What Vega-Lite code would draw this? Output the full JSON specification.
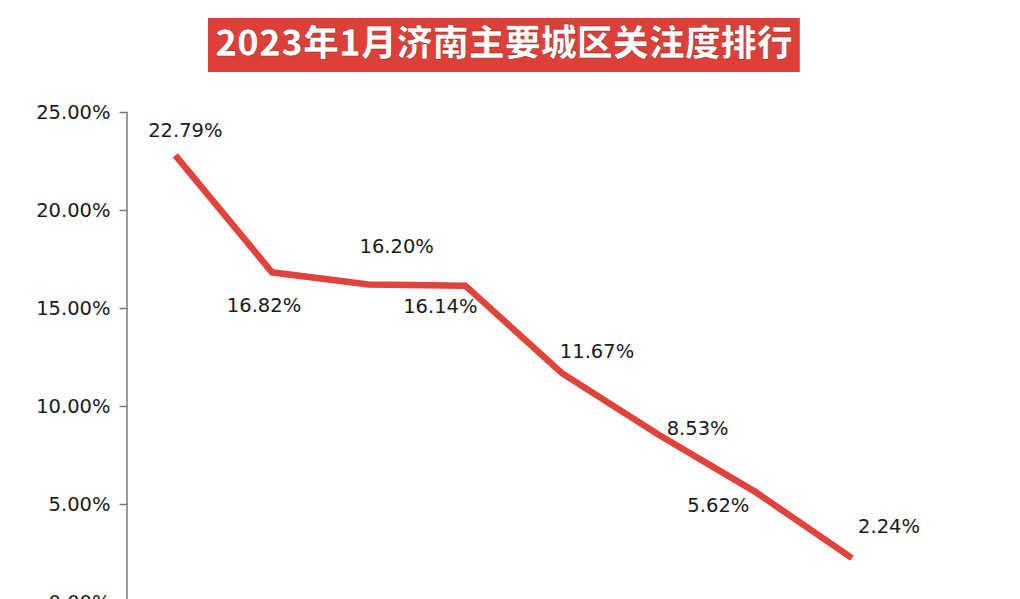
{
  "$schema": "https://vega.github.io/schema/vega-lite/v6.json",
  "autosize": "none",
  "width": 870,
  "height": 588,
  "padding": {"left": 127, "top": 14, "right": 23, "bottom": 0},
  "background": "#ffffff",
  "config": {"view": {"stroke": null}},
  "datasets": {
    "shares": [
      {"rank": 1, "share": 0.2279},
      {"rank": 2, "share": 0.1682},
      {"rank": 3, "share": 0.1620},
      {"rank": 4, "share": 0.1614},
      {"rank": 5, "share": 0.1167},
      {"rank": 6, "share": 0.0853},
      {"rank": 7, "share": 0.0562},
      {"rank": 8, "share": 0.0224}
    ],
    "heading": [{"title": "2023年1月济南主要城区关注度排行"}]
  },
  "layer": [
    {"data": {"name": "heading"},
     "mark": {"type": "rect", "color": "#de4039"},
     "encoding": {
       "x": {"datum": 1.338, "type": "quantitative", "scale": {"domain": [0.5, 9.5], "nice": false, "zero": false}, "axis": null},
       "x2": {"datum": 7.46},
       "y": {"datum": 0.298, "type": "quantitative", "scale": {"domain": [0, 0.30], "nice": false, "zero": false}},
       "y2": {"datum": 0.2704}}},
    {"data": {"name": "heading"},
     "mark": {"type": "text", "font": "Noto Sans CJK SC", "fontSize": 36, "fontWeight": 900, "color": "#ffffff", "stroke": "#9a2a25", "strokeWidth": 0.6, "align": "center", "baseline": "middle"},
     "encoding": {"x": {"datum": 4.40, "type": "quantitative"}, "y": {"datum": 0.2842, "type": "quantitative"}, "text": {"field": "title"}}},
    {"data": {"values": [{"lo": 0, "hi": 0.25}]},
     "mark": {"type": "rule", "color": "#7a7a80", "strokeWidth": 1.5},
     "encoding": {"x": {"datum": 0.5, "type": "quantitative"}, "y": {"field": "lo", "type": "quantitative"}, "y2": {"field": "hi"}}},
    {"data": {"name": "shares"},
     "encoding": {
       "x": {"field": "rank", "type": "quantitative"},
       "y": {"field": "share", "type": "quantitative",
         "axis": {"title": null, "format": ".2%", "values": [0, 0.05, 0.1, 0.15, 0.2, 0.25], "grid": false, "domain": false,
           "tickColor": "#7a7a80", "tickSize": 8, "tickWidth": 1.5,
           "labelFont": "DejaVu Sans", "labelFontSize": 19.5, "labelColor": "#1a1a1a", "labelPadding": 9}}
     },
     "layer": [
       {"mark": {"type": "line", "color": "#e0433b", "strokeWidth": 6.5, "strokeCap": "butt"}},
       {"transform": [{"filter": "datum.rank == 1"}], "mark": {"type": "text", "font": "DejaVu Sans", "fontSize": 19.5, "color": "#1a1a1a", "dx": 10, "dy": -24}, "encoding": {"text": {"field": "share", "format": ".2%"}}},
       {"transform": [{"filter": "datum.rank == 2"}], "mark": {"type": "text", "font": "DejaVu Sans", "fontSize": 19.5, "color": "#1a1a1a", "dx": -8, "dy": 34}, "encoding": {"text": {"field": "share", "format": ".2%"}}},
       {"transform": [{"filter": "datum.rank == 3"}], "mark": {"type": "text", "font": "DejaVu Sans", "fontSize": 19.5, "color": "#1a1a1a", "dx": 28, "dy": -37}, "encoding": {"text": {"field": "share", "format": ".2%"}}},
       {"transform": [{"filter": "datum.rank == 4"}], "mark": {"type": "text", "font": "DejaVu Sans", "fontSize": 19.5, "color": "#1a1a1a", "dx": -25, "dy": 21}, "encoding": {"text": {"field": "share", "format": ".2%"}}},
       {"transform": [{"filter": "datum.rank == 5"}], "mark": {"type": "text", "font": "DejaVu Sans", "fontSize": 19.5, "color": "#1a1a1a", "dx": 35, "dy": -21}, "encoding": {"text": {"field": "share", "format": ".2%"}}},
       {"transform": [{"filter": "datum.rank == 6"}], "mark": {"type": "text", "font": "DejaVu Sans", "fontSize": 19.5, "color": "#1a1a1a", "dx": 39, "dy": -6}, "encoding": {"text": {"field": "share", "format": ".2%"}}},
       {"transform": [{"filter": "datum.rank == 7"}], "mark": {"type": "text", "font": "DejaVu Sans", "fontSize": 19.5, "color": "#1a1a1a", "dx": -37, "dy": 14}, "encoding": {"text": {"field": "share", "format": ".2%"}}},
       {"transform": [{"filter": "datum.rank == 8"}], "mark": {"type": "text", "font": "DejaVu Sans", "fontSize": 19.5, "color": "#1a1a1a", "dx": 37, "dy": -31}, "encoding": {"text": {"field": "share", "format": ".2%"}}}
     ]
    }
  ]
}
